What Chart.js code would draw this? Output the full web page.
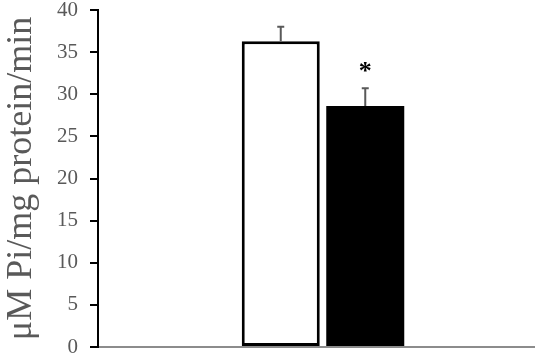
<!DOCTYPE html>
<html>
<head>
<meta charset="utf-8">
<script src="https://cdn.jsdelivr.net/npm/chart.js@4"></script>
<style>
  html, body { margin: 0; padding: 0; background: #fff; overflow: hidden; }
  #wrap { width: 548px; height: 356px; position: relative; }
</style>
</head>
<body>
<div id="wrap"><canvas id="c"></canvas></div>
<script>
const categories = [''];
const seriesNames = ['Control', 'Treated'];
const means = [36.3, 28.6];
const errorsPlus = [1.7, 2.1];
const significance = ['', '*'];
const yTicks = [0, 5, 10, 15, 20, 25, 30, 35, 40];
const yTitle = 'μM Pi/mg protein/min';

const fills = ['#ffffff', '#000000'];

const errorBarPlugin = {
  id: 'errorBars',
  afterDatasetsDraw(chart) {
    const ctx = chart.ctx;
    const y = chart.scales.y;
    chart.data.datasets.forEach((ds, i) => {
      const meta = chart.getDatasetMeta(i);
      meta.data.forEach((bar) => {
        const top = y.getPixelForValue(means[i] + errorsPlus[i]);
        const base = y.getPixelForValue(means[i]);
        ctx.save();
        ctx.strokeStyle = '#595959';
        ctx.lineWidth = 2;
        ctx.beginPath();
        ctx.moveTo(bar.x, base);
        ctx.lineTo(bar.x, top);
        ctx.moveTo(bar.x - 3.5, top);
        ctx.lineTo(bar.x + 3.5, top);
        ctx.stroke();
        if (significance[i]) {
          ctx.fillStyle = '#000';
          ctx.font = 'bold 26px "Liberation Serif"';
          ctx.textAlign = 'center';
          ctx.textBaseline = 'middle';
          ctx.fillText(significance[i], bar.x, top - 16);
        }
        ctx.restore();
      });
    });
  }
};

new Chart(document.getElementById('c'), {
  type: 'bar',
  data: {
    labels: categories,
    datasets: seriesNames.map((name, i) => ({
      label: name,
      data: [means[i]],
      backgroundColor: fills[i],
      borderColor: '#000',
      borderWidth: i === 0 ? 3 : 0,
      borderSkipped: false,
      categoryPercentage: 0.3756,
      barPercentage: 0.923
    }))
  },
  options: {
    responsive: true,
    maintainAspectRatio: false,
    animation: false,
    layout: { padding: { top: 10, bottom: 0, left: 0, right: 0 } },
    plugins: { legend: { display: false }, tooltip: { enabled: false } },
    scales: {
      x: {
        grid: { display: false },
        border: { display: true, color: '#8c8c8c', width: 2 },
        ticks: { display: false },
        afterFit(scale) { scale.height = 9; scale.paddingLeft = 0; scale.paddingRight = 0; }
      },
      y: {
        min: 0, max: 40,
        afterBuildTicks(scale) { scale.ticks = yTicks.map(v => ({ value: v })); },
        grid: { drawOnChartArea: false, drawTicks: true, tickLength: 8, color: '#000', lineWidth: 2 },
        border: { display: true, color: '#000', width: 2 },
        ticks: {
          color: '#595959',
          padding: 12,
          font: { family: '"Liberation Serif"', size: 21 }
        },
        title: {
          display: true,
          text: yTitle,
          color: '#595959',
          padding: { top: 0, bottom: 0 },
          font: { family: '"Liberation Serif"', size: 36 }
        },
        afterFit(scale) { scale.width = 98; scale.paddingTop = 0; scale.paddingBottom = 0; }
      }
    }
  },
  plugins: [errorBarPlugin]
});
</script>
</body>
</html>
